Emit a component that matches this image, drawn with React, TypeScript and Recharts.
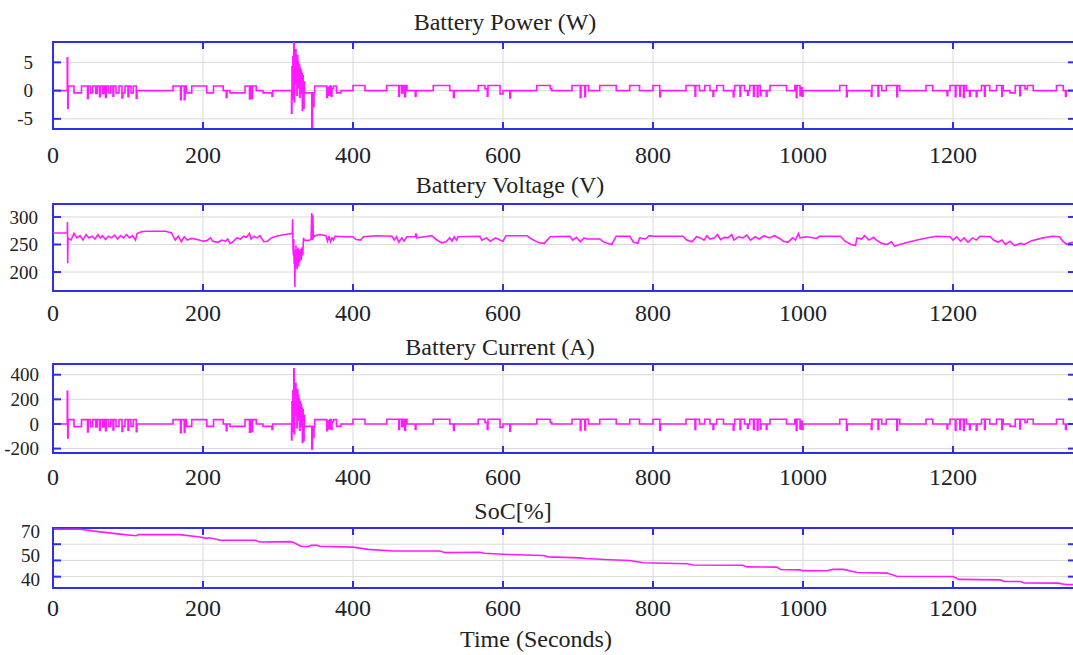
import React from 'react';
import { LineChart, Line, XAxis, YAxis, CartesianGrid, ReferenceArea } from 'recharts';

const BLUE = '#2e2ef0';
const MAGENTA = '#ff1aff';
const GRID = '#d9d9d9';
const TEXT = '#222';
const FONT = '"Liberation Serif", "Times New Roman", serif';

// shared time axis (seconds)
const timeTicks = [0, 200, 400, 600, 800, 1000, 1200];
const timeDomain: [number, number] = [0, 1364];

// Battery Power (W) - step changes [t, value]
const powerPoints: [number, number][] = [
    [0, 0], [19, 5.8], [19.6, -3.1], [20.2, 0.8], [28, -0.4], [38, 0.8], [46, -1.4], [47, 0.8], [50, -0.4], [53, 0.8],
    [57, -0.5], [59, 0.8], [62, -1.1], [63, 0.8], [66, -0.5], [68, 0.8], [70, -1.2], [71, 0.8], [74, -0.4], [77, 0.8],
    [80, -1.0], [81, 0.8], [84, -0.4], [88, 0.8], [92, -1.3], [93, -0.4], [96, 0.8], [100, -1.1], [101, 0.8], [104, -0.4],
    [107, 0.8], [111, -1.4], [112, 0],
    [160, 0.8], [170, -1.6], [171, 0.8], [175, -1.6], [176, 0.8], [178, -0.4], [185, 0.8], [205, -0.4], [214, 0.8], [227, 0],
    [231, -1.2], [232, 0], [236, -0.4], [256, 0.8], [262, -1.5], [263, 0.8], [265, -1.4], [266, 0.8], [271, 0], [280, -0.4],
    [292, -1.0], [293, 0],
    [318, -4.0], [318.6, 4.2], [319.2, -1.5], [319.8, 6.0], [320.4, 1.0], [321, 8.6], [321.6, -2.0], [322.2, 6.4], [322.8, 1.2],
    [323.4, 7.2], [324, 2.5], [324.6, 5.8], [325.2, -0.8], [325.8, 6.2], [326.4, 2.0], [327, 5.0], [327.6, 0.5], [328.2, 4.5],
    [328.8, -1.2], [329.4, 4.0], [330, 1.0], [330.6, 3.6], [331.2, -0.5], [331.8, 3.0], [332.4, -3.5], [333, 2.6], [333.6, 0.5],
    [334.2, -3.1], [334.8, 1.5], [335.4, -0.4], [345, -6.5], [346, -0.4], [347, -2.8], [348, -0.4], [349, 0.8], [365, -1.2],
    [366, 0.6], [368, -0.8], [369, 0.8], [371, -1.0], [372, 0.4], [374, 0.8], [378, -0.4], [384, 0],
    [400, 0.9], [416, 0], [445, 0.9], [461, -1.0], [462, 0.9], [465, -0.4], [467, 0.9], [469, -1.1], [470, 0.9], [472, 0],
    [483, -1.0], [484, 0], [507, 0.9], [529, 0], [534, -1.2], [535, 0], [567, 0.9], [576, 0.3], [579, -1.0], [580, 0.9],
    [596, -0.6], [600, 0], [609, -1.3], [610, 0], [645, 0.9], [663, 0.3], [665, 0], [692, 0.9], [703, -1.2], [704, 0.9],
    [709, -1.1], [710, 0.9], [714, 0], [729, 0.9], [751, 0], [769, 0.9], [782, 0], [800, 0.9], [809, -1.1], [810, 0],
    [844, 0.9], [856, -1.0], [857, 0.9], [862, 0], [869, 0.9], [876, 0], [880, -1.0], [881, 0], [885, 0.9], [894, 0],
    [907, -1.1], [908, 0], [909, 0.9], [916, -1.0], [917, 0.9], [922, 0], [926, -0.8], [927, 0], [929, 0.9], [934, -1.0],
    [935, 0.9], [939, -1.1], [940, 0.9], [943, -0.9], [944, 0], [951, -1.0], [952, 0], [956, 0.9], [978, 0], [989, 0.9],
    [991, -1.2], [992, 0.9], [996, -0.9], [997, 0.5], [999, -1.0], [1000, 0], [1049, 0.9], [1058, -1.1], [1059, 0],
    [1091, -1.0], [1092, 0.9], [1100, -1.0], [1101, 0.9], [1105, 0], [1111, 0.9], [1125, -1.1], [1126, 0.9], [1129, 0],
    [1164, 0.9], [1173, 0], [1192, -0.9], [1193, 0], [1196, 0.9], [1203, -1.1], [1204, 0.9], [1209, -1.0], [1210, 0.9],
    [1214, -1.2], [1215, 0.9], [1218, 0], [1222, -1.0], [1223, 0], [1231, -1.1], [1232, 0], [1238, 0.9], [1242, -1.0],
    [1243, 0.9], [1249, 0], [1258, 0.9], [1265, -1.0], [1266, 0.9], [1267, 0], [1276, -0.4], [1283, 0.9], [1289, -0.9],
    [1290, 0.9], [1296, 0.3], [1299, 0.9], [1307, 0], [1338, 0.9], [1347, 0], [1350, -1.0], [1351, 0], [1364, 0],
];

// Battery Voltage (V)
const voltagePoints: [number, number][] = [
    [0, 271], [19, 271], [19.3, 291], [19.6, 216], [20, 262], [24, 258], [28, 270], [32, 262], [36, 266], [40, 258],
    [44, 268], [48, 262], [52, 265], [56, 260], [60, 268], [63, 262], [66, 266], [70, 259], [74, 265], [78, 262],
    [82, 267], [86, 260], [90, 266], [94, 262], [98, 268], [102, 262], [106, 266], [110, 258], [112, 270], [118, 273],
    [125, 274], [150, 274], [158, 271], [163, 258], [167, 265], [171, 255], [175, 264], [179, 258], [185, 261], [195, 258],
    [200, 256], [205, 257], [210, 262], [213, 256], [220, 254], [225, 258], [230, 256], [233, 260], [236, 252], [240, 255],
    [245, 262], [250, 260], [254, 265], [258, 263], [262, 270], [264, 260], [268, 265], [272, 262], [276, 266], [281, 255],
    [286, 256], [291, 262], [300, 266], [310, 268], [318, 270],
    [319, 270], [319.5, 296], [320, 245], [320.5, 230], [321, 260], [321.5, 215], [322, 240], [322.5, 173], [323, 236],
    [323.5, 208], [324, 248], [324.5, 212], [325, 242], [325.5, 205], [326, 238], [326.5, 215], [327, 244], [327.5, 210],
    [328, 240], [329, 218], [330, 242], [331, 222], [332, 245], [333, 230], [334, 262], [335, 258], [340, 257], [344, 259],
    [345, 307], [345.7, 258], [346.5, 303], [347.2, 262], [349, 266], [356, 268], [364, 266], [366, 256], [368, 264],
    [370, 255], [372, 262], [374, 258], [376, 265], [390, 264], [400, 264], [404, 259], [410, 258], [414, 264], [430, 266],
    [452, 265], [455, 258], [458, 264], [461, 254], [465, 262], [468, 256], [472, 264], [483, 264], [484, 270], [485, 262],
    [500, 265], [505, 266], [510, 260], [518, 253], [524, 255], [529, 262], [532, 256], [535, 264], [538, 258], [540, 264],
    [569, 265], [572, 258], [578, 262], [583, 256], [590, 262], [596, 258], [600, 256], [604, 266], [632, 266], [638, 260],
    [648, 253], [655, 252], [663, 264], [689, 265], [693, 258], [698, 263], [703, 255], [708, 262], [712, 260], [729, 260],
    [735, 254], [745, 250], [751, 265], [769, 265], [774, 254], [780, 252], [782, 262], [790, 260], [795, 266], [800, 265],
    [840, 265], [845, 258], [852, 255], [858, 264], [863, 262], [868, 258], [872, 266], [876, 260], [882, 262], [886, 268],
    [890, 259], [895, 263], [900, 262], [905, 268], [908, 258], [914, 264], [920, 262], [925, 267], [930, 258], [936, 264],
    [942, 260], [948, 266], [955, 262], [962, 266], [970, 260], [974, 256], [980, 254], [986, 262], [990, 258], [994, 270],
    [996, 262], [1005, 264], [1018, 261], [1022, 265], [1050, 265], [1056, 256], [1064, 250], [1070, 248], [1072, 262],
    [1078, 260], [1082, 266], [1088, 258], [1094, 263], [1098, 258], [1105, 252], [1112, 250], [1118, 255], [1122, 247],
    [1129, 250], [1140, 254], [1155, 259], [1170, 263], [1178, 265], [1196, 264], [1200, 258], [1205, 264], [1210, 256],
    [1215, 262], [1220, 254], [1226, 262], [1231, 258], [1236, 265], [1250, 264], [1254, 258], [1260, 254], [1265, 258],
    [1270, 250], [1276, 256], [1282, 248], [1290, 252], [1295, 250], [1305, 257], [1320, 262], [1333, 265], [1342, 264],
    [1347, 255], [1352, 250], [1356, 253], [1364, 255],
];

// Battery Current (A) - step changes [t, value]
const currentPoints: [number, number][] = [
    [0, 0], [19, 265], [19.6, -114], [20.2, 35], [28, -22], [38, 35], [46, -65], [47, 35], [50, -22], [53, 35],
    [57, -25], [59, 35], [62, -50], [63, 35], [66, -25], [68, 35], [70, -55], [71, 35], [74, -20], [77, 35],
    [80, -48], [81, 35], [84, -20], [88, 35], [92, -60], [93, -20], [96, 35], [100, -50], [101, 35], [104, -20],
    [107, 35], [111, -62], [112, 0],
    [160, 35], [170, -72], [171, 35], [175, -70], [176, 35], [178, -20], [185, 35], [205, -20], [214, 35], [227, 0],
    [231, -55], [232, 0], [236, -20], [256, 35], [262, -68], [263, 35], [265, -62], [266, 35], [271, 0], [280, -20],
    [292, -45], [293, 0],
    [318, -130], [318.6, 180], [319.2, -60], [319.8, 270], [320.4, 60], [321, 448], [321.6, -80], [322.2, 290], [322.8, 70],
    [323.4, 330], [324, 120], [324.6, 260], [325.2, -30], [325.8, 280], [326.4, 100], [327, 230], [327.6, 30], [328.2, 200],
    [328.8, -50], [329.4, 180], [330, 50], [330.6, 160], [331.2, -20], [331.8, 130], [332.4, -150], [333, 115], [333.6, 20],
    [334.2, -135], [334.8, 70], [335.4, -20], [345, -204], [346, -20], [347, -110], [348, -20], [349, 35], [365, -55],
    [366, 25], [368, -38], [369, 35], [371, -45], [372, 18], [374, 35], [378, -20], [384, 0],
    [400, 38], [416, 0], [445, 38], [461, -45], [462, 38], [465, -20], [467, 38], [469, -50], [470, 38], [472, 0],
    [483, -45], [484, 0], [507, 38], [529, 0], [534, -52], [535, 0], [567, 38], [576, 12], [579, -45], [580, 38],
    [596, -28], [600, 0], [609, -58], [610, 0], [645, 38], [663, 12], [665, 0], [692, 38], [703, -52], [704, 38],
    [709, -48], [710, 38], [714, 0], [729, 38], [751, 0], [769, 38], [782, 0], [800, 38], [809, -50], [810, 0],
    [844, 38], [856, -45], [857, 38], [862, 0], [869, 38], [876, 0], [880, -45], [881, 0], [885, 38], [894, 0],
    [907, -50], [908, 0], [909, 38], [916, -45], [917, 38], [922, 0], [926, -35], [927, 0], [929, 38], [934, -45],
    [935, 38], [939, -50], [940, 38], [943, -40], [944, 0], [951, -45], [952, 0], [956, 38], [978, 0], [989, 38],
    [991, -52], [992, 38], [996, -40], [997, 22], [999, -45], [1000, 0], [1049, 38], [1058, -50], [1059, 0],
    [1091, -45], [1092, 38], [1100, -45], [1101, 38], [1105, 0], [1111, 38], [1125, -50], [1126, 38], [1129, 0],
    [1164, 38], [1173, 0], [1192, -40], [1193, 0], [1196, 38], [1203, -50], [1204, 38], [1209, -45], [1210, 38],
    [1214, -52], [1215, 38], [1218, 0], [1222, -45], [1223, 0], [1231, -50], [1232, 0], [1238, 38], [1242, -45],
    [1243, 38], [1249, 0], [1258, 38], [1265, -45], [1266, 38], [1267, 0], [1276, -20], [1283, 38], [1289, -40],
    [1290, 38], [1296, 12], [1299, 38], [1307, 0], [1338, 38], [1347, 0], [1350, -45], [1351, 0], [1364, 0],
];

// SoC [%]
const socPoints: [number, number][] = [
    [0, 69.2], [36, 69.2], [63, 67.6], [89, 66.2], [111, 65.2], [114, 65.9], [169, 65.9], [196, 64.5], [204, 63.6],
    [209, 64.0], [223, 62.4], [270, 62.4], [275, 61.4], [316, 61.6], [321, 61.0], [331, 58.6], [340, 58.6], [345, 59.3],
    [352, 59.3], [356, 58.7], [400, 58.2], [420, 56.8], [454, 55.8], [516, 55.8], [523, 54.8], [569, 55.0], [575, 54.4],
    [600, 53.8], [654, 53.0], [660, 52.2], [703, 51.6], [710, 51.2], [743, 50.4], [769, 50.0], [787, 48.6], [845, 48.0],
    [854, 47.2], [920, 47.0], [925, 46.0], [965, 45.9], [970, 44.4], [996, 44.2], [1000, 43.7], [1032, 43.6], [1040, 44.6],
    [1054, 44.5], [1072, 42.6], [1112, 42.2], [1125, 40.2], [1200, 40.1], [1208, 38.3], [1263, 38.0], [1268, 37.1],
    [1290, 37.0], [1295, 36.1], [1340, 36.0], [1350, 35.2], [1364, 35.0],
];

const toRows = (pts: [number, number][]) => pts.map(([t, v]) => ({ t, v }));

// geometry shared by all panels
const CHART_W = 1076;
const Y_AXIS_W = 53;
const PLOT_W = CHART_W - Y_AXIS_W;
const PAD_TOP = 14; // room above the plot so the top tick label is not clipped
const X_AXIS_H = 40;
const TICK_LEN = 7;

interface PanelProps {
    top: number;
    plotHeight: number;
    points: [number, number][];
    lineType: 'stepAfter' | 'linear';
    yDomain: [number, number];
    yTicks: number[];
    yLabelGap: number;
    xLabelGap: number;
    hideYLabels?: number[];
    labelShift?: Record<number, number>;
}

function Panel({ top, plotHeight, points, lineType, yDomain, yTicks, yLabelGap, xLabelGap, hideYLabels = [], labelShift = {} }: PanelProps) {
    const inner = (v: number) => v !== yDomain[0] && v !== yDomain[1];

    // bottom labels + inward tick marks on both the bottom and the top edge
    const bottomTick = (p: any) => {
        const base = p.y - xLabelGap;
        const topEdge = base - plotHeight;
        return (
            <g>
                <line x1={p.x} x2={p.x} y1={base} y2={base - TICK_LEN} stroke={BLUE} strokeWidth={2} />
                <line x1={p.x} x2={p.x} y1={topEdge} y2={topEdge + TICK_LEN} stroke={BLUE} strokeWidth={2} />
                <text x={p.x} y={p.y} dy="0.35em" textAnchor="middle" fill={TEXT} fontSize={24} fontFamily={FONT}>
                    {p.payload.value}
                </text>
            </g>
        );
    };
    // left labels + inward tick marks on the left and right edge
    const leftTick = (p: any) => {
        const v = p.payload.value;
        const edge = p.x + yLabelGap;
        const right = edge + PLOT_W;
        return (
            <g>
                {inner(v) && <line x1={edge} x2={edge + TICK_LEN + 1} y1={p.y} y2={p.y} stroke={BLUE} strokeWidth={2} />}
                {inner(v) && <line x1={right} x2={right - TICK_LEN - 1} y1={p.y} y2={p.y} stroke={BLUE} strokeWidth={2} />}
                {!hideYLabels.includes(v) && (
                    <text x={p.x} y={p.y + (labelShift[v] || 0)} dy="0.35em" textAnchor="end" fill={TEXT} fontSize={19} fontFamily={FONT}>
                        {v}
                    </text>
                )}
            </g>
        );
    };

    return (
        <div style={{ position: 'absolute', left: 0, top: top - PAD_TOP }}>
            <LineChart width={CHART_W} height={plotHeight + PAD_TOP + X_AXIS_H} data={toRows(points)}
                margin={{ top: PAD_TOP, right: 0, bottom: 0, left: 0 }}>
                <CartesianGrid stroke={GRID} strokeWidth={1} />
                <XAxis dataKey="t" type="number" domain={timeDomain} ticks={timeTicks} interval={0} allowDataOverflow
                    height={X_AXIS_H} axisLine={false} tickLine={false} tickSize={0} tickMargin={xLabelGap} tick={bottomTick} />
                <YAxis type="number" domain={yDomain} ticks={yTicks} interval={0} allowDataOverflow width={Y_AXIS_W}
                    axisLine={false} tickLine={false} tickSize={0} tickMargin={yLabelGap} tick={leftTick} />
                <Line type={lineType} dataKey="v" stroke={MAGENTA} strokeWidth={1.6} dot={false} isAnimationActive={false} />
                <ReferenceArea x1={timeDomain[0]} x2={timeDomain[1]} y1={yDomain[0]} y2={yDomain[1]}
                    fill="none" stroke={BLUE} strokeWidth={2} ifOverflow="visible" />
            </LineChart>
        </div>
    );
}

const titleStyle = (cx: number, cy: number): React.CSSProperties => ({
    position: 'absolute',
    left: cx,
    top: cy,
    transform: 'translate(-50%, -50%)',
    fontFamily: FONT,
    fontSize: 24,
    lineHeight: 1,
    color: TEXT,
    whiteSpace: 'nowrap',
});

export default function App() {
    return (
        <div style={{ position: 'absolute', left: 0, top: 0, width: 1073, height: 655, overflow: 'hidden', background: '#fff' }}>
            <div style={titleStyle(505, 22)}>Battery Power (W)</div>
            <Panel top={42} plotHeight={87} points={powerPoints} lineType="stepAfter"
                yDomain={[-6.8, 8.6]} yTicks={[-5, 0, 5]} yLabelGap={20} xLabelGap={26} />

            <div style={titleStyle(510, 185)}>Battery Voltage (V)</div>
            <Panel top={204} plotHeight={87} points={voltagePoints} lineType="linear"
                yDomain={[165.6, 323.5]} yTicks={[200, 250, 300]} yLabelGap={15} xLabelGap={22} />

            <div style={titleStyle(500, 347)}>Battery Current (A)</div>
            <Panel top={364} plotHeight={89} points={currentPoints} lineType="stepAfter"
                yDomain={[-236, 487]} yTicks={[-200, 0, 200, 400]} yLabelGap={14} xLabelGap={24} />

            <div style={titleStyle(513, 511)}>SoC[%]</div>
            <Panel top={528} plotHeight={60} points={socPoints} lineType="linear"
                yDomain={[33, 70]} yTicks={[40, 50, 60, 70]} yLabelGap={13} xLabelGap={20} hideYLabels={[60]}
                labelShift={{ 70: 3, 50: -5, 40: 3 }} />

            <div style={titleStyle(536, 639)}>Time (Seconds)</div>
        </div>
    );
}
